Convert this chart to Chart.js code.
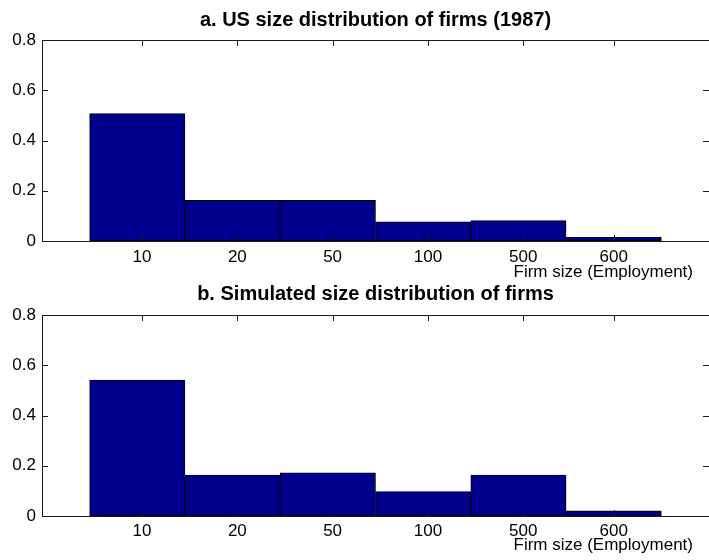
<!DOCTYPE html>
<html>
<head>
<meta charset="utf-8">
<script src="https://cdn.jsdelivr.net/npm/chart.js@4.4.1/dist/chart.umd.min.js"></script>
<style>
  html, body { margin: 0; padding: 0; background: #fff; overflow: hidden; }
  .panel { position: absolute; left: 0; width: 709px; height: 280px; }
</style>
</head>
<body>
<div class="panel" style="top:0"><canvas id="usChart" width="709" height="280"></canvas></div>
<div class="panel" style="top:280px"><canvas id="simChart" width="709" height="280"></canvas></div>
<script>
const sizeLabels = ['10', '20', '50', '100', '500', '600'];
const tickSpots  = [1.05, 2.05, 3.05, 4.05, 5.05, 6];
const usShares   = [0.507, 0.162, 0.162, 0.076, 0.081, 0.015];
const simShares  = [0.541, 0.163, 0.172, 0.097, 0.163, 0.021];
const yTicks     = [0, 0.2, 0.4, 0.6, 0.8];
const xLabel     = 'Firm size (Employment)';

const FONT = "'Liberation Sans', Arial, sans-serif";
const INK  = '#000';
const LINE = '#1a1a1a';

// matlab look: closed box, ticks pointing inward, xlabel pushed to the right
const boxPlugin = {
  id: 'box',
  afterDraw(chart, args, opts) {
    const { ctx, chartArea: a, scales: { x, y } } = chart;
    ctx.save();
    ctx.strokeStyle = LINE;
    ctx.lineWidth = 1;
    ctx.beginPath();
    ctx.rect(a.left + .5, a.top + .5, a.right - a.left, a.bottom - a.top);
    for (const v of yTicks) {
      const py = Math.round(y.getPixelForValue(v)) + .5;
      ctx.moveTo(a.left, py); ctx.lineTo(a.left + 6, py);
      ctx.moveTo(a.right, py); ctx.lineTo(a.right - 6, py);
    }
    for (const v of tickSpots) {
      const px = Math.round(x.getPixelForValue(v)) + .5;
      ctx.moveTo(px, a.top); ctx.lineTo(px, a.top + 6);
      ctx.moveTo(px, a.bottom); ctx.lineTo(px, a.bottom - 6);
    }
    ctx.stroke();
    ctx.fillStyle = INK;
    ctx.font = '17px ' + FONT;
    ctx.textAlign = 'right';
    ctx.textBaseline = 'alphabetic';
    ctx.fillText(xLabel, a.right - opts.labelInset, a.bottom + opts.labelDrop);
    ctx.restore();
  }
};

function drawPanel(canvasId, title, values, t) {
  new Chart(document.getElementById(canvasId), {
    type: 'bar',
    data: {
      datasets: [{
        data: values.map((v, i) => ({ x: i + 1, y: v })),
        backgroundColor: '#00008f',
        borderColor: '#000',
        borderWidth: 1,
        borderSkipped: false,
        barThickness: 'flex',
        barPercentage: 1,
        categoryPercentage: 1
      }]
    },
    options: {
      responsive: false,
      animation: false,
      devicePixelRatio: 1,
      layout: { padding: 0 },
      plugins: {
        legend: { display: false },
        tooltip: { enabled: false },
        title: {
          display: true, text: title, fullSize: false, color: INK,
          font: { family: FONT, size: 20, weight: 'bold', lineHeight: 1.2 },
          padding: { top: t.titleTop, bottom: t.titleBottom }
        },
        box: { labelInset: 16, labelDrop: t.labelDrop }
      },
      scales: {
        x: {
          type: 'linear', min: 0, max: 7, offset: false,
          grid: { display: false, drawTicks: false },
          border: { display: false },
          afterBuildTicks: s => { s.ticks = tickSpots.map(v => ({ value: v })); },
          afterFit: s => { s.height = t.xHeight; },
          ticks: {
            color: INK, font: { family: FONT, size: 17 }, padding: t.tickPad,
            maxRotation: 0, autoSkip: false,
            callback: (v, i) => sizeLabels[i]
          }
        },
        y: {
          min: 0, max: 0.8,
          grid: { display: false, drawTicks: false },
          border: { display: false },
          afterBuildTicks: s => { s.ticks = yTicks.map(v => ({ value: v })); },
          afterFit: s => { s.width = 42; },
          ticks: {
            color: INK, font: { family: FONT, size: 17 }, padding: 6,
            callback: v => String(v)
          }
        }
      }
    },
    plugins: [boxPlugin]
  });
}

drawPanel('usChart', 'a. US size distribution of firms (1987)', usShares,
  { titleTop: 8.5, titleBottom: 7.5, xHeight: 39, tickPad: 6, labelDrop: 35.5 });
drawPanel('simChart', 'b. Simulated size distribution of firms', simShares,
  { titleTop: 2.5, titleBottom: 8.5, xHeight: 44, tickPad: 5, labelDrop: 33.5 });
</script>
</body>
</html>
